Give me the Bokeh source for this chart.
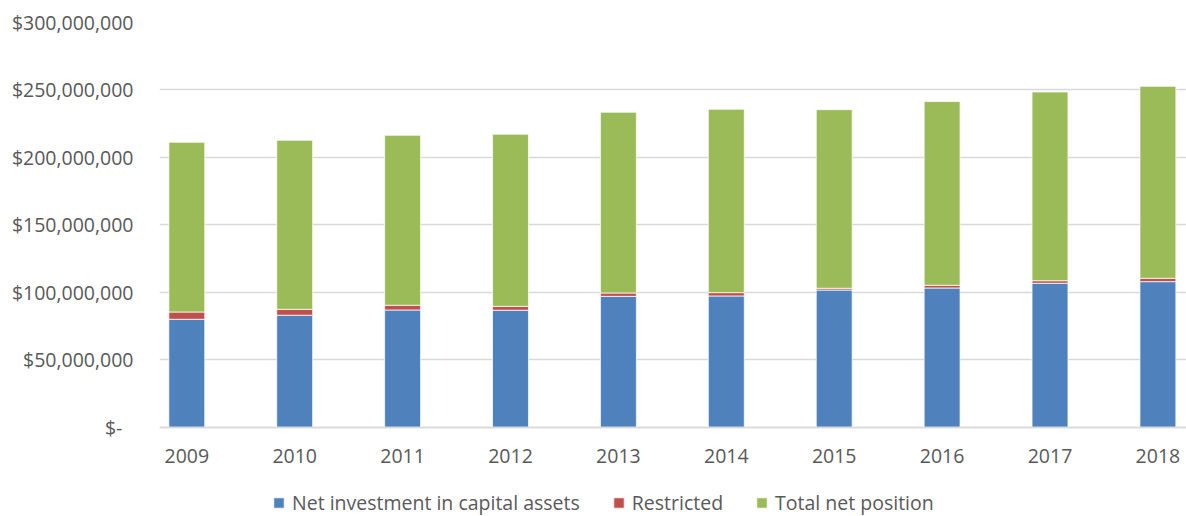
from bokeh.plotting import figure
from bokeh.models import ColumnDataSource, FixedTicker, Range1d, Legend, LegendItem
from bokeh.embed import file_html
from bokeh.resources import INLINE

years = [2009, 2010, 2011, 2012, 2013, 2014, 2015, 2016, 2017, 2018]
net_investment = [80_000_000, 83_000_000, 86_900_000, 86_700_000, 97_000_000,
                  97_300_000, 101_700_000, 103_200_000, 106_700_000, 107_900_000]
restricted = [5_400_000, 4_400_000, 3_500_000, 2_900_000, 2_500_000,
              2_450_000, 1_300_000, 2_000_000, 1_900_000, 2_500_000]
total_net_position = [125_800_000, 125_300_000, 126_000_000, 127_600_000, 134_000_000,
                      135_950_000, 132_400_000, 136_200_000, 139_900_000, 142_300_000]
series_names = ["Net investment in capital assets", "Restricted", "Total net position"]
colors = ["#4F81BD", "#C0504D", "#9BBB59"]
y_ticks = [0, 50_000_000, 100_000_000, 150_000_000, 200_000_000, 250_000_000, 300_000_000]
y_labels = ["$-\u2007", "$50,000,000", "$100,000,000", "$150,000,000",
            "$200,000,000", "$250,000,000", "$300,000,000"]
x_labels = [str(y) for y in years]

src = ColumnDataSource(dict(year=years, a=net_investment, b=restricted, c=total_net_position))

FONT = "Open Sans"
TXT = "#595959"
FS = "19.5px"

# frame reaches the bottom of the canvas; the x axis sits at y = 0 and the legend below it
p = figure(width=1186, height=516, output_backend="svg", toolbar_location=None,
           x_range=Range1d(2008.747, 2018.265), y_range=Range1d(-66_200_000, 300_000_000),
           min_border_left=159, min_border_right=0, min_border_top=22, min_border_bottom=0)
p.outline_line_color = None
p.background_fill_color = "white"
p.border_fill_color = "white"

renderers = p.vbar_stack(["a", "b", "c"], x="year", width=0.333, color=colors,
                         line_color="white", line_width=0.75, source=src)

# axes
p.xaxis.fixed_location = 0
p.xaxis.ticker = FixedTicker(ticks=years)
p.xaxis.major_label_overrides = {y: s for y, s in zip(years, x_labels)}
p.xaxis.axis_line_color = "#d9d9d9"
p.xaxis.axis_line_width = 1.5
p.xaxis.major_tick_line_color = None
p.xaxis.major_tick_out = 0
p.xaxis.major_tick_in = 0
p.xaxis.minor_tick_line_color = None
p.xaxis.major_label_standoff = 22
p.xaxis.major_label_text_font = FONT
p.xaxis.major_label_text_font_size = FS
p.xaxis.major_label_text_color = TXT

p.yaxis.ticker = FixedTicker(ticks=y_ticks)
p.yaxis.major_label_overrides = {t: s for t, s in zip(y_ticks, y_labels)}
p.yaxis.axis_line_color = None
p.yaxis.major_tick_line_color = None
p.yaxis.major_tick_out = 0
p.yaxis.major_tick_in = 0
p.yaxis.minor_tick_line_color = None
p.yaxis.major_label_standoff = 26
p.yaxis.major_label_text_font = FONT
p.yaxis.major_label_text_font_size = FS
p.yaxis.major_label_text_color = TXT

p.xgrid.grid_line_color = None
p.ygrid.grid_line_color = "#d9d9d9"
p.ygrid.grid_line_width = 1.5

legend = Legend(items=[LegendItem(label=n, renderers=[r]) for n, r in zip(series_names, renderers)],
                orientation="horizontal", location=(113, 0),
                glyph_width=13, glyph_height=13, label_standoff=7, spacing=32,
                padding=0, margin=0, border_line_color=None, background_fill_alpha=0,
                label_text_font=FONT, label_text_font_size=FS, label_text_color=TXT)
p.add_layout(legend, "center")

open("out.html", "w").write(file_html(p, INLINE))
